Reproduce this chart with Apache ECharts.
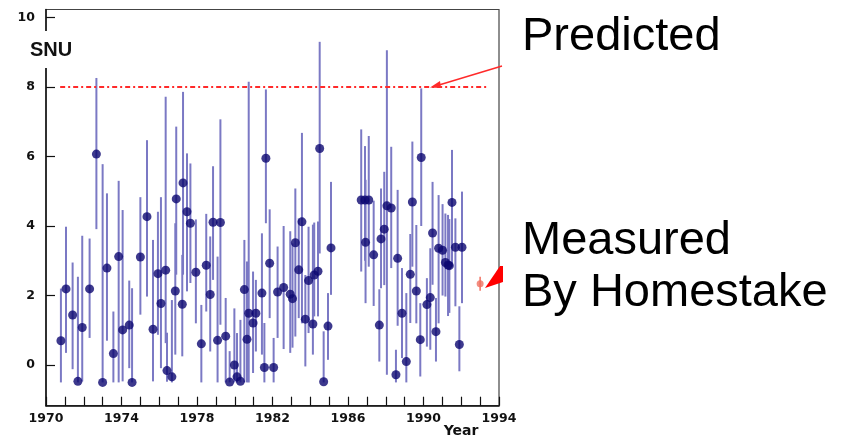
<!DOCTYPE html>
<html><head><meta charset="utf-8">
<script src="https://cdn.jsdelivr.net/npm/echarts@6/dist/echarts.min.js"></script>
<style>html,body{margin:0;padding:0;background:#fff}#c{width:848px;height:436px}</style>
</head><body><div id="c"></div>
<script>
// Homestake chlorine runs: year, rate (SNU), upper and lower error bar ends
const years = [1970.79,1971.06,1971.41,1971.69,1971.92,1972.31,1972.67,1973.00,1973.23,1973.57,
1973.85,1974.06,1974.41,1974.56,1975.00,1975.35,1975.67,1975.93,1976.09,1976.34,
1976.41,1976.67,1976.85,1976.90,1977.22,1977.26,1977.47,1977.65,1977.94,1978.23,
1978.49,1978.70,1978.85,1979.09,1979.24,1979.52,1979.73,1979.98,1980.12,1980.30,
1980.51,1980.65,1980.74,1980.97,1981.12,1981.44,1981.57,1981.65,1981.85,1982.06,
1982.27,1982.59,1982.94,1983.06,1983.21,1983.39,1983.56,1983.74,1983.91,1984.14,
1984.21,1984.41,1984.50,1984.71,1984.94,1985.10,1986.70,1986.90,1986.93,1987.10,
1987.36,1987.66,1987.75,1987.92,1988.06,1988.29,1988.54,1988.63,1988.86,1989.09,
1989.30,1989.41,1989.62,1989.83,1989.88,1990.18,1990.36,1990.48,1990.66,1990.80,
1991.01,1991.16,1991.30,1991.37,1991.51,1991.69,1991.90,1992.04];
const rates = [0.70,2.19,1.44,-0.47,1.08,2.19,6.07,-0.50,2.79,0.33,
3.12,1.01,1.15,-0.50,3.11,4.27,1.03,2.63,1.77,2.73,
-0.16,-0.34,2.13,4.78,1.75,5.24,4.41,4.08,2.67,0.61,
2.87,2.03,4.11,0.71,4.10,0.83,-0.49,0.00,-0.34,-0.47,
2.17,0.74,1.49,1.21,1.49,2.07,-0.07,5.95,2.93,-0.07,
2.10,2.23,2.04,1.91,3.52,2.74,4.12,1.32,2.43,1.18,
2.59,2.70,6.23,-0.48,1.12,3.37,4.75,4.75,3.53,4.75,
3.17,1.15,3.63,3.91,4.58,4.52,-0.28,3.07,1.49,0.10,
2.61,4.69,2.13,0.73,5.97,1.74,1.94,3.80,0.96,3.36,
3.30,2.95,2.88,2.86,4.68,3.39,0.59,3.39];
const upper = [2.20,3.98,2.95,2.54,3.72,3.64,8.26,5.78,4.94,1.54,
5.30,4.46,2.43,2.21,4.83,6.47,3.60,4.41,4.83,7.72,
0.93,1.87,4.08,6.86,3.17,7.86,6.09,5.80,4.19,1.73,
4.35,3.70,5.72,3.12,7.07,1.93,0.40,1.63,0.92,1.30,
3.60,2.98,8.15,2.69,2.45,3.79,1.21,7.93,4.48,0.78,
3.41,4.00,3.85,3.50,5.08,4.22,6.68,2.59,3.98,4.04,
4.10,4.13,9.30,0.97,2.07,5.27,6.78,6.30,5.33,6.59,
4.73,2.18,5.08,5.56,9.06,6.28,0.44,5.04,2.79,2.07,
3.77,6.43,4.03,1.78,7.96,2.50,3.36,5.27,1.93,4.89,
4.63,4.36,4.32,4.20,6.19,4.22,1.69,4.99];
const lower = [-0.50,0.35,-0.12,-0.50,-0.47,0.78,3.91,-0.50,0.70,-0.50,
-0.50,-0.47,-0.09,-0.50,1.45,1.97,-0.47,0.87,-0.09,0.63,
-0.48,-0.50,0.30,2.60,0.25,2.60,2.12,2.36,1.20,-0.50,
1.54,0.39,2.45,-0.50,1.16,-0.50,-0.50,-0.50,-0.50,-0.50,
-0.50,-0.50,-0.50,-0.23,0.39,0.30,-0.50,4.08,1.35,-0.50,
0.78,0.46,0.35,0.50,0.82,1.35,1.20,-0.04,0.92,0.30,
1.40,1.40,3.21,-0.50,0.15,2.02,2.69,3.00,1.78,2.83,
1.70,0.10,2.21,2.30,-0.28,2.79,-0.50,1.13,0.20,-0.50,
1.21,2.83,1.20,-0.33,4.00,0.53,0.44,2.31,0.10,1.20,
2.00,1.97,1.41,1.50,2.83,1.69,-0.18,1.78];
// Predicted rate line and average measured rate
const predictedRate = 8;
const predictedSpan = [1970.75, 1993.38];
const measuredYear = 1993.0, measuredRate = 2.34, measuredErr = 0.2;
const xTickYears = [1970,1974,1978,1982,1986,1990,1994];
const yTickValues = [0,2,4,6,8,10];

const pts = years.map((y,i)=>[y, rates[i]]);
const bars = years.map((y,i)=>[y, lower[i], upper[i]]);
const tickFont = {fontFamily:'DejaVu Sans', fontWeight:'bold', fontSize:12.5, color:'#111'};

const chart = echarts.init(document.getElementById('c'), null, {renderer:'canvas'});
function errRender(color, w){
  return function(params, api){
    const a = api.coord([api.value(0), api.value(1)]);
    const b = api.coord([api.value(0), api.value(2)]);
    return {type:'line', shape:{x1:a[0],y1:a[1],x2:b[0],y2:b[1]}, style:{stroke:color, lineWidth:w}};
  };
}
chart.setOption({
  animation:false,
  backgroundColor:'#fff',
  grid:{left:46, right:349, top:9.5, bottom:30.3, show:true, borderColor:'#444', borderWidth:1.2, backgroundColor:'transparent'},
  xAxis:{type:'value', min:1970, max:1994, interval:1,
    axisLine:{onZero:false, lineStyle:{color:'#111', width:1.5}},
    axisTick:{inside:true, length:9, lineStyle:{color:'#111', width:1.2}},
    axisLabel:Object.assign({margin:7, customValues:xTickYears, formatter:v=>String(v)}, tickFont),
    splitLine:{show:false}},
  yAxis:{type:'value', min:-1.17, max:10.23,
    axisLine:{show:true, onZero:false, lineStyle:{color:'#111', width:1.5}},
    axisTick:{show:true, inside:true, length:9, customValues:yTickValues, lineStyle:{color:'#111', width:1.2}},
    axisLabel:Object.assign({margin:11, customValues:yTickValues}, tickFont),
    splitLine:{show:false}},
  series:[
    {type:'custom', renderItem:errRender('#7b79c4',2), data:bars, encode:{x:0,y:[1,2]}, z:2},
    {type:'scatter', data:pts, symbol:'circle', symbolSize:9, itemStyle:{color:'#0c0870'}, z:3},
    {type:'line', data:[[predictedSpan[0],predictedRate],[predictedSpan[1],predictedRate]], symbol:'none',
      lineStyle:{color:'#ff2a2a', width:2, type:[5,3,2,3]}, z:4},
    {type:'custom', renderItem:errRender('#f07060',1.5), data:[[measuredYear, measuredRate-measuredErr, measuredRate+measuredErr]], encode:{x:0,y:[1,2]}, z:4},
    {type:'scatter', data:[[measuredYear, measuredRate]], symbolSize:7, itemStyle:{color:'#f07060'}, z:5}
  ],
  graphic:[
    {type:'rect', shape:{x:22, y:31, width:56, height:37}, style:{fill:'#fff'}, z:100},
    {type:'text', x:30, y:50, style:{text:'SNU', font:'bold 20px "Liberation Sans", Arial', fill:'#111', verticalAlign:'middle'}, z:101},
    {type:'text', x:461, y:431, style:{text:'Year', font:'bold 14px "DejaVu Sans"', fill:'#111', align:'center', verticalAlign:'middle'}, z:101},
    {type:'line', shape:{x1:502, y1:66, x2:434, y2:86.5}, style:{stroke:'#ff2a2a', lineWidth:1.5}, z:101},
    {type:'polygon', shape:{points:[[430,87.5],[440,81],[441,88]]}, style:{fill:'#ff2a2a'}, z:101},
    {type:'polygon', shape:{points:[[485,288],[500,266],[503,266],[503,282]]}, style:{fill:'#ff0000'}, z:101},
    {type:'text', x:522, y:61, style:{text:'Predicted', font:'47px "Liberation Sans", Arial', fill:'#000', verticalAlign:'bottom'}, z:101},
    {type:'text', x:522, y:265, style:{text:'Measured', font:'47px "Liberation Sans", Arial', fill:'#000', verticalAlign:'bottom'}, z:101},
    {type:'text', x:522, y:317, style:{text:'By Homestake', font:'47px "Liberation Sans", Arial', fill:'#000', verticalAlign:'bottom'}, z:101}
  ]
});
</script></body></html>
